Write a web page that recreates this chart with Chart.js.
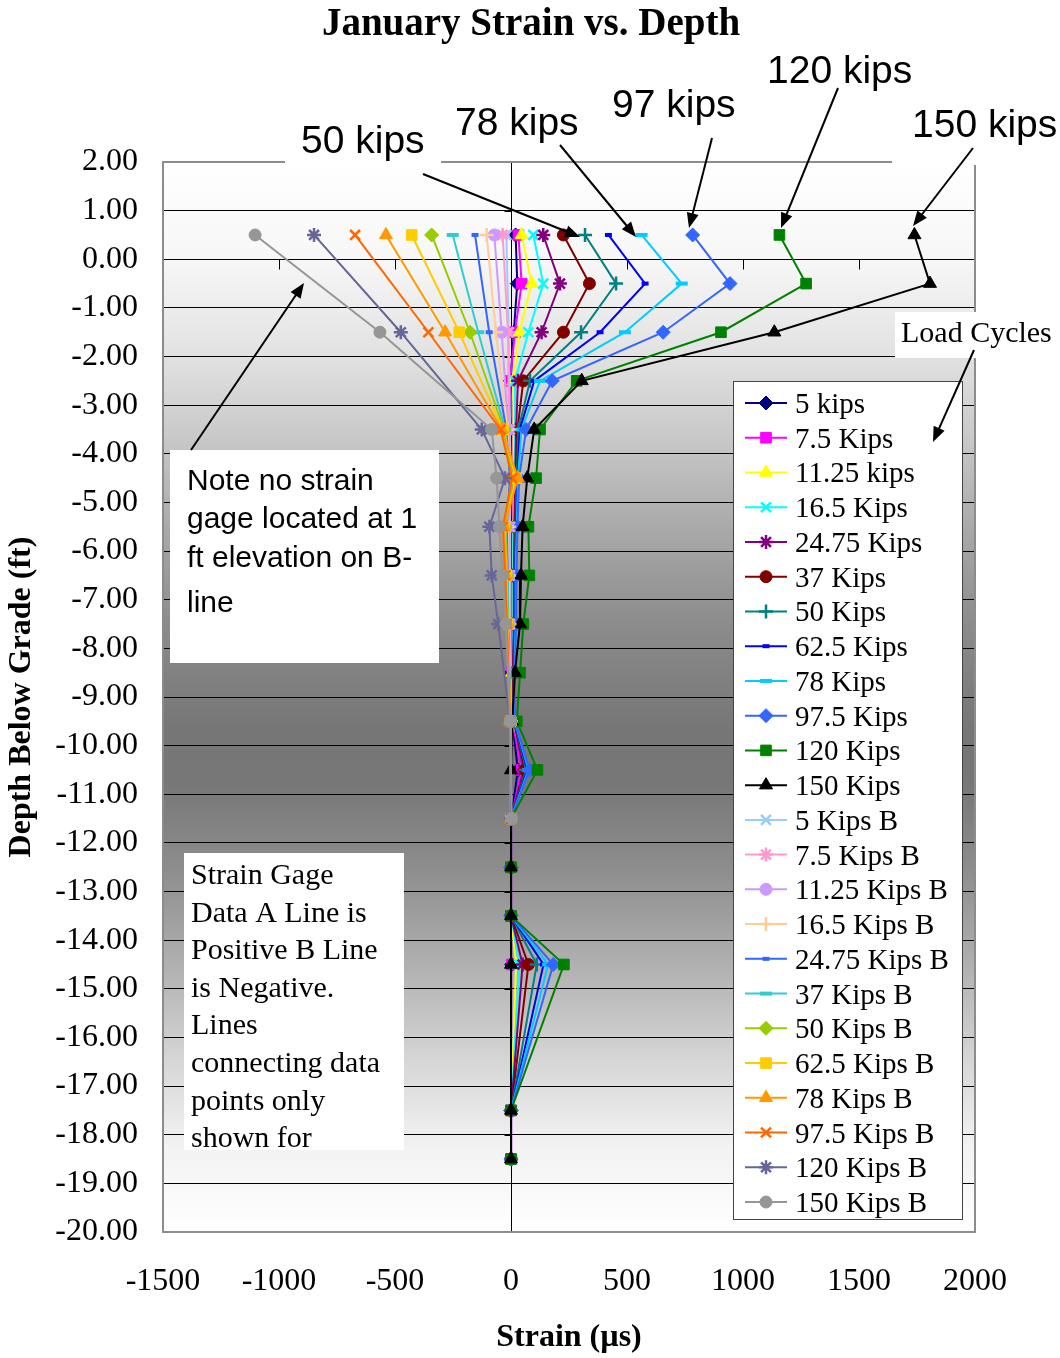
<!DOCTYPE html>
<html>
<head>
<meta charset="utf-8">
<script src="https://cdn.jsdelivr.net/npm/chart.js@4/dist/chart.umd.min.js"></script>
<style>
  html, body { margin: 0; padding: 0; background: #ffffff; }
  #wrap { width: 1060px; height: 1358px; }
</style>
</head>
<body>
<div id="wrap"><canvas id="c" width="1060" height="1358"></canvas></div>
<script>
// ---- gauge depths (ft) ----
const depthsA = [0.5, -0.5, -1.5, -2.5, -3.5, -4.5, -5.5, -6.5, -7.5, -8.5, -9.5, -10.5, -11.5, -12.5, -13.5, -14.5, -17.5, -18.5];
const depthsB = [0.5, -1.5, -3.5, -4.5, -5.5, -6.5, -7.5, -9.5, -11.5];

// ---- A line strain (µs), one array per load ----
const a5     = [20, 27, 12, -2, 5, 8, 5, 5, 5, 2, 5, 30, 0, 0, 0, 3, 0, 0];
const a7_5   = [32, 46, 17, -4, 8, 10, 8, 6, 6, 4, 6, 46, 0, 0, 0, 3, 0, 0];
const a11_25 = [46, 89, 36, 10, 12, 12, 10, 8, 8, 5, 8, 67, 0, 0, 0, 22, 0, 0];
const a16_5  = [96, 139, 75, 17, 18, 15, 12, 10, 10, 6, 10, 60, 0, 0, 0, 36, 0, 0];
const a24_75 = [139, 211, 132, 30, 22, 18, 15, 12, 12, 8, 12, 55, 0, 0, 0, 50, 0, 0];
const a37    = [226, 338, 226, 53, 28, 22, 18, 14, 14, 10, 14, 60, 0, 0, 0, 75, 0, 0];
const a50    = [319, 453, 302, 82, 32, 25, 20, 16, 16, 12, 15, 65, 0, 0, 0, 111, 0, 0];
const a62_5  = [420, 578, 384, 100, 38, 28, 22, 18, 18, 14, 16, 70, 0, 0, 0, 140, 0, 0];
const a78    = [563, 736, 491, 125, 45, 30, 25, 20, 20, 15, 17, 75, 0, 0, 0, 160, 0, 0];
const a97_5  = [783, 944, 656, 178, 65, 35, 28, 24, 22, 16, 18, 80, 0, 0, 0, 182, 0, 0];
const a120   = [1157, 1272, 905, 283, 125, 108, 75, 79, 53, 39, 25, 114, 0, 0, 0, 228, 0, 0];
const a150   = [1739, 1806, 1135, 305, 100, 70, 50, 43, 39, 17, 5, 0, 0, 0, 0, 0, 0, 0];

// ---- B line strain (µs) ----
const b5     = [-20, -10, -5, 0, -5, -5, -5, 0, 0];
const b7_5   = [-36, -13, -8, -2, -8, -8, -6, 0, 0];
const b11_25 = [-72, -40, -12, -5, -12, -10, -8, -1, 0];
const b16_5  = [-105, -65, -15, -8, -15, -12, -10, -2, 0];
const b24_75 = [-155, -94, -20, -5, -18, -14, -12, -2, 0];
const b37    = [-251, -141, -25, 2, -22, -16, -13, -2, 0];
const b50    = [-342, -177, -30, 8, -25, -18, -14, -3, 0];
const b62_5  = [-428, -223, -35, 22, -28, -20, -15, -3, 0];
const b78    = [-539, -284, -40, 30, -30, -22, -16, -3, 0];
const b97_5  = [-672, -356, -45, 5, -35, -25, -18, -4, 0];
const b120   = [-849, -475, -126, -26, -93, -83, -55, -4, 0];
const b150   = [-1103, -565, -83, -62, -50, -36, -22, -4, 3];

const labelsA = ['5 kips', '7.5 Kips', '11.25 kips', '16.5 Kips', '24.75 Kips', '37 Kips', '50 Kips', '62.5 Kips', '78 Kips', '97.5 Kips', '120 Kips', '150 Kips'];
const labelsB = ['5 Kips B', '7.5 Kips B', '11.25 Kips B', '16.5 Kips B', '24.75 Kips B', '37 Kips B', '50 Kips B', '62.5 Kips B', '78 Kips B', '97.5 Kips B', '120 Kips B', '150 Kips B'];
const strainA = [a5, a7_5, a11_25, a16_5, a24_75, a37, a50, a62_5, a78, a97_5, a120, a150];
const strainB = [b5, b7_5, b11_25, b16_5, b24_75, b37, b50, b62_5, b78, b97_5, b120, b150];

// axis tick values
const xTicks = [-1500, -1000, -500, 0, 500, 1000, 1500, 2000];
const yMin = -20, yMax = 2;

// ---- series styling ----
const colorsA = ['#000080', '#FF00FF', '#FFFF00', '#00FFFF', '#800080', '#800000', '#008080', '#0000FF', '#00CCFF', '#3366FF', '#008000', '#000000'];
const colorsB = ['#99CCFF', '#FF99CC', '#CC99FF', '#FFCC99', '#3366FF', '#33CCCC', '#99CC00', '#FFCC00', '#FF9900', '#FF6600', '#666699', '#969696'];
const markersA = ['rectRot', 'rect', 'triangle', 'crossRot', 'star', 'circle', 'cross', 'dashS', 'dashL', 'rectRot', 'rect', 'triangle'];
const markersB = ['crossRot', 'star', 'circle', 'cross', 'dashS', 'dashL', 'rectRot', 'rect', 'triangle', 'crossRot', 'star', 'circle'];

const markerSpec = {
  rect:     { style: 'rect', r: 7.5, bw: 1 },
  rectRot:  { style: 'rectRot', r: 7, bw: 1 },
  triangle: { style: 'triangle', r: 7.5, bw: 1 },
  circle:   { style: 'circle', r: 6, bw: 1 },
  crossRot: { style: 'crossRot', r: 7, bw: 2.5 },
  cross:    { style: 'cross', r: 7, bw: 2.5 },
  star:     { style: 'star', r: 7, bw: 2.5 },
  dashS:    { style: 'line', r: 3.5, bw: 4 },
  dashL:    { style: 'line', r: 6, bw: 4 }
};

function makeSet(label, depths, values, color, marker, order) {
  const m = markerSpec[marker];
  return {
    label: label,
    data: values.map((v, i) => ({ x: v, y: depths[i] })),
    showLine: true,
    borderColor: color,
    backgroundColor: color,
    pointBackgroundColor: color,
    pointBorderColor: color,
    borderWidth: 2,
    pointStyle: m.style,
    pointRadius: m.r,
    pointBorderWidth: m.bw,
    tension: 0,
    order: order
  };
}

const datasets = [];
const nTotal = labelsA.length + labelsB.length;
labelsA.forEach((l, i) => datasets.push(makeSet(l, depthsA, strainA[i], colorsA[i], markersA[i], nTotal - i)));
labelsB.forEach((l, i) => datasets.push(makeSet(l, depthsB, strainB[i], colorsB[i], markersB[i], nTotal - labelsA.length - i)));

const SERIF = '"Liberation Serif", "Times New Roman", serif';
const SANS = '"Liberation Sans", Arial, sans-serif';

function arrow(ctx, x1, y1, x2, y2) {
  const ang = Math.atan2(y2 - y1, x2 - x1);
  const L = 15, W = 6;
  ctx.save();
  ctx.strokeStyle = '#000';
  ctx.fillStyle = '#000';
  ctx.lineWidth = 2;
  ctx.beginPath();
  ctx.moveTo(x1, y1);
  ctx.lineTo(x2 - Math.cos(ang) * L * 0.8, y2 - Math.sin(ang) * L * 0.8);
  ctx.stroke();
  ctx.beginPath();
  ctx.moveTo(x2, y2);
  ctx.lineTo(x2 - Math.cos(ang) * L - Math.sin(ang) * W, y2 - Math.sin(ang) * L + Math.cos(ang) * W);
  ctx.lineTo(x2 - Math.cos(ang) * L + Math.sin(ang) * W, y2 - Math.sin(ang) * L - Math.cos(ang) * W);
  ctx.closePath();
  ctx.fill();
  ctx.restore();
}

function text(ctx, str, x, y, font, align) {
  ctx.save();
  ctx.font = font;
  ctx.fillStyle = '#000';
  ctx.textAlign = align || 'left';
  ctx.textBaseline = 'alphabetic';
  ctx.fillText(str, x, y);
  ctx.restore();
}

function whiteBox(ctx, x, y, w, h, stroke) {
  ctx.save();
  ctx.fillStyle = '#ffffff';
  ctx.fillRect(x, y, w, h);
  if (stroke) {
    ctx.strokeStyle = stroke;
    ctx.lineWidth = 1;
    ctx.strokeRect(x + 0.5, y + 0.5, w - 1, h - 1);
  }
  ctx.restore();
}

function drawMarker(ctx, marker, color, x, y) {
  const m = markerSpec[marker];
  ctx.save();
  ctx.fillStyle = color;
  ctx.strokeStyle = color;
  ctx.lineWidth = m.bw;
  if (Chart.helpers && Chart.helpers.drawPoint) {
    Chart.helpers.drawPoint(ctx, { pointStyle: m.style, radius: m.r, rotation: 0, borderWidth: m.bw }, x, y);
  } else {
    ctx.beginPath();
    ctx.arc(x, y, m.r, 0, Math.PI * 2);
    ctx.fill();
  }
  ctx.restore();
}

const decor = {
  id: 'decor',
  beforeDraw(chart) {
    const { ctx, chartArea: a } = chart;
    const g = ctx.createLinearGradient(0, a.top, 0, a.bottom);
    g.addColorStop(0.00, '#ffffff');
    g.addColorStop(0.09, '#f7f7f7');
    g.addColorStop(0.18, '#e2e2e2');
    g.addColorStop(0.25, '#cbcbcb');
    g.addColorStop(0.34, '#aaaaaa');
    g.addColorStop(0.43, '#8c8c8c');
    g.addColorStop(0.53, '#767676');
    g.addColorStop(0.58, '#777777');
    g.addColorStop(0.66, '#8d8d8d');
    g.addColorStop(0.75, '#b0b0b0');
    g.addColorStop(0.84, '#d6d6d6');
    g.addColorStop(0.92, '#f2f2f2');
    g.addColorStop(1.00, '#ffffff');
    ctx.save();
    ctx.fillStyle = g;
    ctx.fillRect(a.left, a.top, a.right - a.left, a.bottom - a.top);
    ctx.restore();
  },
  beforeDatasetsDraw(chart) {
    const { ctx, chartArea: a, scales: { x, y } } = chart;
    const x0 = Math.round(x.getPixelForValue(0)) + 0.5;
    const y0 = Math.round(y.getPixelForValue(0)) + 0.5;
    ctx.save();
    ctx.strokeStyle = '#000';
    ctx.lineWidth = 1;
    ctx.beginPath();
    // vertical axis through zero strain, ticks pointing left
    ctx.moveTo(x0, a.top);
    ctx.lineTo(x0, a.bottom);
    for (let v = yMin; v <= yMax; v++) {
      const py = Math.round(y.getPixelForValue(v)) + 0.5;
      ctx.moveTo(x0 - 7, py);
      ctx.lineTo(x0, py);
    }
    // horizontal axis through zero depth, ticks pointing down
    ctx.moveTo(a.left, y0);
    ctx.lineTo(a.right, y0);
    xTicks.forEach(v => {
      const px = Math.round(x.getPixelForValue(v)) + 0.5;
      ctx.moveTo(px, y0);
      ctx.lineTo(px, y0 + 10);
    });
    ctx.stroke();
    ctx.restore();
  },
  afterDatasetsDraw(chart) {
    const { ctx, chartArea: a } = chart;
    // plot frame
    ctx.save();
    ctx.strokeStyle = '#8c8c8c';
    ctx.lineWidth = 2;
    ctx.strokeRect(a.left, a.top, a.right - a.left, a.bottom - a.top);
    ctx.restore();

    // chart title
    text(ctx, 'January Strain vs. Depth', 531, 35, 'bold 39px ' + SERIF, 'center');

    // load labels with pointers
    whiteBox(ctx, 285, 112, 156, 53);
    whiteBox(ctx, 892, 96, 168, 69);
    const kf = '39px ' + SANS;
    text(ctx, '50 kips', 301, 153, kf);
    text(ctx, '78 kips', 455, 135, kf);
    text(ctx, '97 kips', 612, 117, kf);
    text(ctx, '120 kips', 767, 83, kf);
    text(ctx, '150 kips', 912, 137, kf);
    arrow(ctx, 423, 174, 580, 237);
    arrow(ctx, 560, 145, 636, 237);
    arrow(ctx, 712, 138, 689, 228);
    arrow(ctx, 838, 88, 781, 228);
    arrow(ctx, 973, 148, 913, 226);

    // gage note
    whiteBox(ctx, 170, 450, 269, 213);
    const nf = '30px ' + SANS;
    text(ctx, 'Note no strain', 187, 490, nf);
    text(ctx, 'gage located at 1', 187, 528, nf);
    text(ctx, 'ft elevation on B-', 187, 567, nf);
    text(ctx, 'line', 187, 612, nf);
    arrow(ctx, 191, 450, 304, 283);

    // sign convention note
    whiteBox(ctx, 184, 853, 220, 297);
    const sf = '30px ' + SERIF;
    ['Strain Gage', 'Data A Line is', 'Positive B Line', 'is Negative.', 'Lines', 'connecting data', 'points only', 'shown for']
      .forEach((s, i) => text(ctx, s, 191, 884 + i * 37.6, sf));

    // legend
    whiteBox(ctx, 733, 381, 230, 839, '#444444');
    const allLabels = labelsA.concat(labelsB);
    const allColors = colorsA.concat(colorsB);
    const allMarkers = markersA.concat(markersB);
    allLabels.forEach((l, i) => {
      const cy = 403 + i * 34.74;
      ctx.save();
      ctx.strokeStyle = allColors[i];
      ctx.lineWidth = 2;
      ctx.beginPath();
      ctx.moveTo(745, cy);
      ctx.lineTo(787, cy);
      ctx.stroke();
      ctx.restore();
      drawMarker(ctx, allMarkers[i], allColors[i], 766, cy);
      text(ctx, l, 795, cy + 10, '29px ' + SERIF);
    });

    // legend pointer
    whiteBox(ctx, 895, 312, 160, 46);
    text(ctx, 'Load Cycles', 901, 342, '30px ' + SERIF);
    arrow(ctx, 974, 350, 933, 442);
  }
};

new Chart(document.getElementById('c'), {
  type: 'scatter',
  data: { datasets: datasets },
  options: {
    responsive: false,
    animation: false,
    devicePixelRatio: 1,
    layout: { padding: { top: 162, right: 85, left: 0, bottom: 0 } },
    plugins: { legend: { display: false }, tooltip: { enabled: false }, title: { display: false } },
    scales: {
      x: {
        type: 'linear',
        min: -1500, max: 2000,
        afterBuildTicks(scale) { scale.ticks = xTicks.map(v => ({ value: v })); },
        afterFit(scale) { scale.height = 126; },
        grid: { display: false, drawTicks: false },
        border: { display: false },
        ticks: { padding: 30, color: '#000', font: { family: SERIF, size: 32 }, callback: v => String(v), maxRotation: 0, autoSkip: false },
        title: { display: true, text: 'Strain (µs)', color: '#000', font: { family: SERIF, size: 32, weight: 'bold' }, padding: { top: 0, bottom: 1 } }
      },
      y: {
        type: 'linear',
        min: yMin, max: yMax,
        afterFit(scale) { scale.width = 163; },
        grid: { color: '#000000', lineWidth: 1, drawTicks: false },
        border: { display: false },
        ticks: { stepSize: 1, padding: 25, color: '#000', font: { family: SERIF, size: 32 }, callback: v => Number(v).toFixed(2), autoSkip: false },
        title: { display: true, text: 'Depth Below Grade (ft)', color: '#000', font: { family: SERIF, size: 32, weight: 'bold' }, padding: { top: 3, bottom: 0 } }
      }
    }
  },
  plugins: [decor]
});
</script>
</body>
</html>
